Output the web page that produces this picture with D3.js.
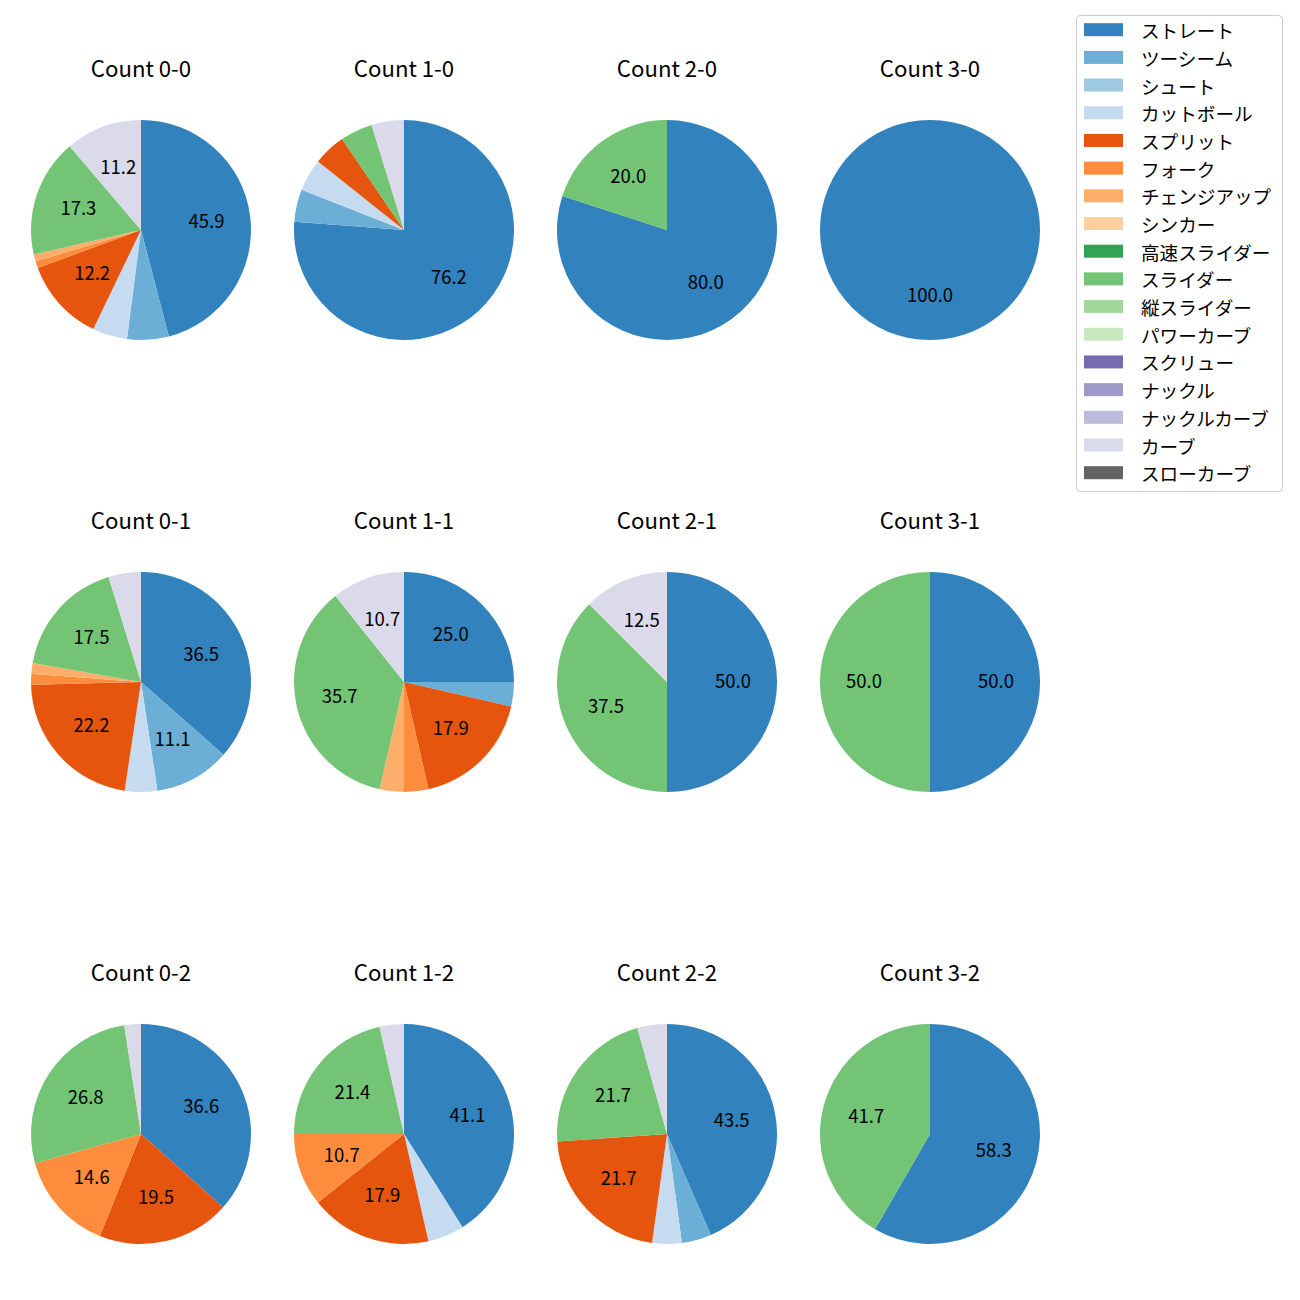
<!DOCTYPE html>
<html>
<head>
<meta charset="utf-8">
<script src="https://cdn.jsdelivr.net/npm/d3@7"></script>
<style>
  html, body { margin: 0; padding: 0; background: #ffffff; }
  svg { display: block; font-family: "Noto Sans CJK JP", "Noto Sans", sans-serif; }
</style>
</head>
<body>
<svg id="chart" width="1300" height="1300"></svg>
<script>
// Pitch types (legend order)
const categories = ["ストレート","ツーシーム","シュート","カットボール","スプリット","フォーク","チェンジアップ","シンカー","高速スライダー","スライダー","縦スライダー","パワーカーブ","スクリュー","ナックル","ナックルカーブ","カーブ","スローカーブ"];
const palette = ["#3182bd","#6baed6","#9ecae1","#c6dbef","#e6550d","#fd8d3c","#fdae6b","#fdd0a2","#31a354","#74c476","#a1d99b","#c7e9c0","#756bb1","#9e9ac8","#bcbddc","#dadaeb","#636363"];

// Panel titles (row-major)
const countTitles = ["Count 0-0","Count 1-0","Count 2-0","Count 3-0",
                     "Count 0-1","Count 1-1","Count 2-1","Count 3-1",
                     "Count 0-2","Count 1-2","Count 2-2","Count 3-2"];

// Pitch counts per ball-strike count, aligned with categories
const count00 = [45,6,0,5,12,1,1,0,0,17,0,0,0,0,0,11,0];
const count10 = [16,1,0,1,1,0,0,0,0,1,0,0,0,0,0,1,0];
const count20 = [4,0,0,0,0,0,0,0,0,1,0,0,0,0,0,0,0];
const count30 = [1,0,0,0,0,0,0,0,0,0,0,0,0,0,0,0,0];
const count01 = [23,7,0,3,14,1,1,0,0,11,0,0,0,0,0,3,0];
const count11 = [7,1,0,0,5,1,1,0,0,10,0,0,0,0,0,3,0];
const count21 = [4,0,0,0,0,0,0,0,0,3,0,0,0,0,0,1,0];
const count31 = [1,0,0,0,0,0,0,0,0,1,0,0,0,0,0,0,0];
const count02 = [15,0,0,0,8,6,0,0,0,11,0,0,0,0,0,1,0];
const count12 = [23,0,0,3,10,6,0,0,0,12,0,0,0,0,0,2,0];
const count22 = [10,1,0,1,5,0,0,0,0,5,0,0,0,0,0,1,0];
const count32 = [7,0,0,0,0,0,0,0,0,5,0,0,0,0,0,0,0];

const panels = [count00,count10,count20,count30,
                count01,count11,count21,count31,
                count02,count12,count22,count32];

const svg = d3.select("#chart");
svg.append("rect").attr("width",1300).attr("height",1300).attr("fill","#ffffff");

const color = d3.scaleOrdinal(categories, palette);

// layout
const colX = d3.scalePoint().domain(d3.range(4)).range([141, 930]);
const rowY = d3.scalePoint().domain(d3.range(3)).range([230, 1134]);
const R = 110;

const pie = d3.pie().sort(null).value(d => d.v).startAngle(0).endAngle(2*Math.PI);
const arc = d3.arc().innerRadius(0).outerRadius(R);
const labelArc = d3.arc().innerRadius(R*0.6).outerRadius(R*0.6);

panels.forEach((vals, i) => {
  const col = i % 4, row = Math.floor(i / 4);
  const cx = colX(col), cy = rowY(row);
  const total = d3.sum(vals);
  const data = categories.map((c, k) => ({cat: c, v: vals[k]}));
  const arcs = pie(data).filter(a => a.data.v > 0);

  const g = svg.append("g").attr("transform", `translate(${cx},${cy})`);
  g.selectAll("path").data(arcs).join("path")
    .attr("d", arc)
    .attr("fill", d => color(d.data.cat));

  g.selectAll("text.pct").data(arcs.filter(a => a.data.v / total * 100 >= 10)).join("text")
    .attr("class","pct")
    .attr("transform", d => { const p = labelArc.centroid(d); return `translate(${p[0]},${p[1]-2})`; })
    .attr("text-anchor","middle")
    .attr("dominant-baseline","central")
    .attr("font-size", 18.5)
    .attr("fill","#000000")
    .text(d => (d.data.v / total * 100).toFixed(1));

  svg.append("text")
    .attr("x", cx).attr("y", cy - 153)
    .attr("text-anchor","middle")
    .attr("font-size", 22.2)
    .attr("fill","#000000")
    .text(countTitles[i]);
});

// legend
const lg = svg.append("g");
lg.append("rect")
  .attr("x",1076.5).attr("y",15.5).attr("width",206).attr("height",476)
  .attr("rx",4).attr("ry",4)
  .attr("fill","#ffffff").attr("fill-opacity",0.8)
  .attr("stroke","#cccccc").attr("stroke-width",1);
const ly = d3.scaleLinear().domain([0,16]).range([29.7, 472.7]);
const items = lg.selectAll("g.item").data(categories).join("g").attr("class","item")
  .attr("transform",(d,i)=>`translate(0,${ly(i)})`);
items.append("rect").attr("x",1084).attr("y",-6.5).attr("width",39).attr("height",13)
  .attr("fill", d => color(d));
items.append("text").attr("x",1141).attr("y",0)
  .attr("dominant-baseline","central")
  .attr("font-size",18.6).attr("fill","#000000")
  .text(d => d);
</script>
</body>
</html>
